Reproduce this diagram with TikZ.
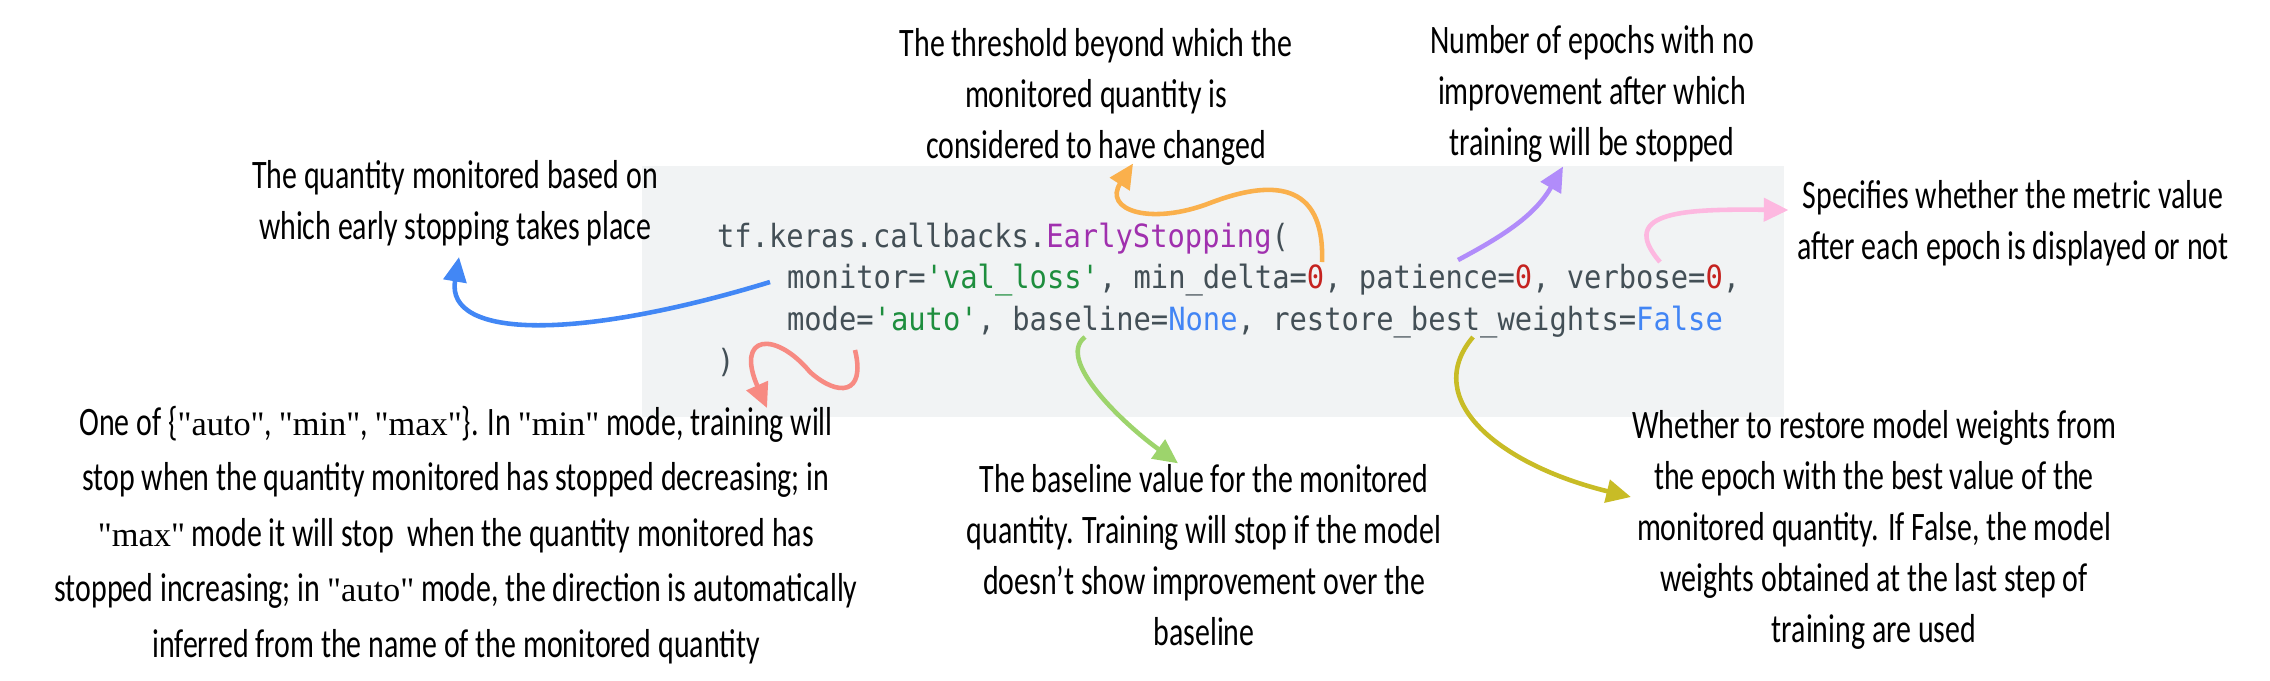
\documentclass[tikz,border=0pt]{standalone}
\usepackage{fontspec}
\setmainfont{Carlito}[FakeStretch=0.74]
\newfontfamily\codefont{DejaVu Sans Mono}[FakeStretch=0.9]
\newfontfamily\quotefont{Liberation Serif}[Scale=0.85]
\usetikzlibrary{arrows.meta}

\definecolor{codebg}{HTML}{F1F3F4}
\definecolor{codefg}{HTML}{434F56}
\definecolor{codefn}{HTML}{A030AE}
\definecolor{codestr}{HTML}{1E8E3E}
\definecolor{codenum}{HTML}{C5221F}
\definecolor{codekw}{HTML}{4285F4}
\definecolor{pblue}{HTML}{4287F5}
\definecolor{porange}{HTML}{FAB04C}
\definecolor{ppurple}{HTML}{B18CFA}
\definecolor{ppink}{HTML}{FDB8E0}
\definecolor{pred}{HTML}{F78A82}
\definecolor{pgreen}{HTML}{9DD46C}
\definecolor{polive}{HTML}{C8BC26}

\newcommand{\qt}[1]{{\quotefont "#1"}}

\tikzset{every path/.style={semithick},
  note/.style={align=center, inner sep=0pt, font=\fontsize{11.5}{14.5}\selectfont},
  codeline/.style={anchor=base west, inner sep=0pt, text=codefg,
    font=\codefont\fontsize{9.1}{11}\selectfont},
  pointer/.style={draw=#1, line width=1.3pt, -{Triangle[length=7pt,width=6.5pt]}}}

\begin{document}
\begin{tikzpicture}
  \useasboundingbox (0,0) rectangle (22.7,-6.8);

  % code block
  \fill[codebg] (6.42,-1.66) rectangle (17.84,-4.17);
  \node[codeline] (call) at (7.16,-2.47) {tf.keras.callbacks.\textcolor{codefn}{EarlyStopping}(};
  \node[codeline] (args1) at (7.86,-2.88) {monitor=\textcolor{codestr}{'val\_loss'}, min\_delta=\textcolor{codenum}{0}, patience=\textcolor{codenum}{0}, verbose=\textcolor{codenum}{0},};
  \node[codeline] (args2) at (7.86,-3.30) {mode=\textcolor{codestr}{'auto'}, baseline=\textcolor{codekw}{None}, restore\_best\_weights=\textcolor{codekw}{False}};
  \node[codeline] (close) at (7.16,-3.72) {)};

  % notes
  \node[note] (qty) at (4.55,-2.03) {The quantity monitored based on\\which early stopping takes place};
  \node[note] (thr) at (10.96,-0.97) {The threshold beyond which the\\monitored quantity is\\considered to have changed};
  \node[note] (pat) at (15.92,-0.94) {Number of epochs with no\\improvement after which\\training will be stopped};
  \node[note] (verb) at (20.13,-2.23) {Specifies whether the metric value\\after each epoch is displayed or not};
  \node[note, font=\fontsize{11.5}{15.8}\selectfont] (mode) at (4.56,-5.35)
    {One of \{\qt{auto}, \qt{min}, \qt{max}\}. In \qt{min} mode, training will\\
     stop when the quantity monitored has stopped decreasing; in\\
     \qt{max} mode it will stop \ when the quantity monitored has\\
     stopped increasing; in \qt{auto} mode, the direction is automatically\\
     inferred from the name of the monitored quantity};
  \node[note] (base) at (12.04,-5.55) {The baseline value for the monitored\\quantity. Training will stop if the model\\doesn't show improvement over the\\baseline};
  \node[note] (rest) at (18.74,-5.30) {Whether to restore model weights from\\the epoch with the best value of the\\monitored quantity. If False, the model\\weights obtained at the last step of\\training are used};

  % where the arrows leave the code
  \coordinate (monitor) at (7.70,-2.82);
  \coordinate (mindelta) at (13.22,-2.62);
  \coordinate (patience) at (14.58,-2.60);
  \coordinate (verbose) at (16.60,-2.62);
  \coordinate (modearg) at (8.55,-3.50);
  \coordinate (baseline) at (10.85,-3.37);
  \coordinate (restore) at (14.73,-3.37);

  \draw[pointer=pblue] (monitor) .. controls (5.8,-3.4) and (4.45,-3.4) .. ([xshift=0.4mm,yshift=-1mm]qty.south);
  \draw[pointer=porange] (mindelta) .. controls (13.25,-1.8) and (12.7,-1.8) .. (12.1,-2.03)
    .. controls (11.5,-2.26) and (11.03,-2.1) .. ([xshift=3.7mm,yshift=0.3mm]thr.south);
  \draw[pointer=ppurple] (patience) to[out=28,in=240] ([xshift=-2.9mm,yshift=-0.3mm]pat.south);
  \draw[pointer=ppink] (verbose) .. controls (16.15,-2.1) and (16.9,-2.09) .. ([xshift=-0.8mm,yshift=1.3mm]verb.west);
  \draw[pointer=pred] (modearg) .. controls (8.66,-3.95) and (8.38,-3.97) .. (8.10,-3.72)
    .. controls (7.75,-3.3) and (7.35,-3.35) .. ([xshift=31.1mm,yshift=-0.3mm]mode.north);
  \draw[pointer=pgreen] (baseline) .. controls (10.55,-3.6) and (11.25,-4.25) .. ([xshift=-2.6mm]base.north);
  \draw[pointer=polive] (restore) .. controls (14.2,-4.0) and (15.0,-4.65) .. ([yshift=3.3mm]rest.west);
\end{tikzpicture}
\end{document}
